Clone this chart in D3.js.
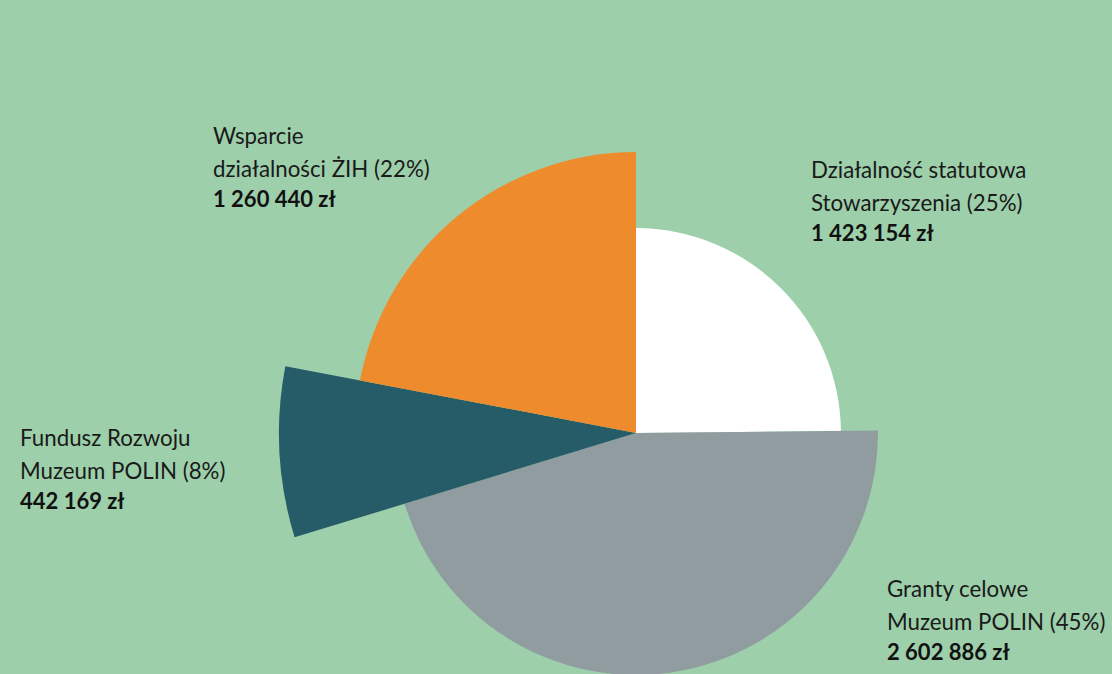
<!DOCTYPE html>
<html><head><meta charset="utf-8">
<script src="https://cdn.jsdelivr.net/npm/d3@7"></script>
<style>
html,body{margin:0;padding:0;background:#9dcfab;}
svg{display:block;}
.lab{font-family:Lato,"Open Sans",sans-serif;font-size:22.3px;fill:#1a1a1a;}
.val{font-family:Lato,"DejaVu Sans",sans-serif;font-weight:bold;font-size:22px;fill:#111;}
</style></head><body>
<svg id="c" width="1112" height="674"></svg>
<script>
// Data
const categories = ["Działalność statutowa Stowarzyszenia", "Granty celowe Muzeum POLIN", "Fundusz Rozwoju Muzeum POLIN", "Wsparcie działalności ŻIH"];
const values = [1423154, 2602886, 442169, 1260440];
const percentLabels = ["25%", "45%", "8%", "22%"];
const valueLabels = ["1 423 154 zł", "2 602 886 zł", "442 169 zł", "1 260 440 zł"];
const labelLines = [["Działalność statutowa", "Stowarzyszenia (25%)"], ["Granty celowe", "Muzeum POLIN (45%)"], ["Fundusz Rozwoju", "Muzeum POLIN (8%)"], ["Wsparcie", "działalności ŻIH (22%)"]];

// Styling / layout
const colors = ["#ffffff", "#919ca1", "#265c67", "#ee8b2c"];
const relRadius = [0.574, 0.678, 1.0, 0.787];
const cx = 636, cy = 433, maxR = 357;
const labelPos = [[811, 178], [887, 597], [20, 446], [213, 144]];

const svg = d3.select("#c");
const pie = d3.pie().sort(null).value(d => d.v);
const arcs = pie(values.map((v, i) => ({v, i})));
const r = d3.scaleLinear().domain([0, 1]).range([0, maxR]);
const g = svg.append("g").attr("transform", `translate(${cx},${cy})`);
g.selectAll("path").data(arcs).join("path")
  .attr("d", d => d3.arc().innerRadius(0).outerRadius(r(relRadius[d.data.i]))(d))
  .attr("fill", d => colors[d.data.i]);

labelLines.forEach((lines, i) => {
  const [x, y] = labelPos[i];
  const t = svg.append("g");
  lines.forEach((l, j) => t.append("text").attr("class", "lab").attr("x", x).attr("y", y + j * 33).text(l));
  t.append("text").attr("class", "val").attr("x", x).attr("y", y + 63).text(valueLabels[i]);
});
</script></body></html>
